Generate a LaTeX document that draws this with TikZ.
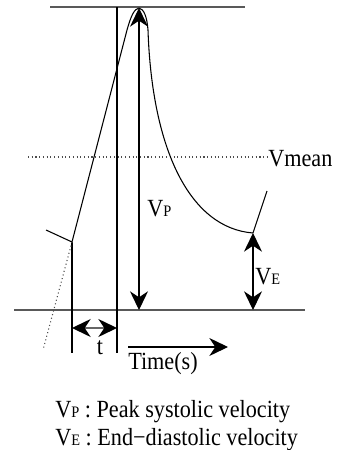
\documentclass[tikz,border=0pt]{standalone}
\usepackage{fontspec}
\setmainfont[FakeStretch=0.9]{Liberation Serif}
\usetikzlibrary{arrows.meta}
\newcommand{\smsub}[1]{{\fontsize{12}{13}\selectfont #1}}
\begin{document}
\begin{tikzpicture}[x=0.75pt,y=-0.75pt,
  axis/.style={draw=black!65, line width=1.5pt},
  thinline/.style={draw=black, line width=0.8pt},
  dotline/.style={draw=black!70, line width=0.8pt, dotted},
  tipone/.style={-{Stealth[length=14pt,width=13.5pt,inset=4.5pt,color=black]}},
  tiptwo/.style={{Stealth[length=14pt,width=13.5pt,inset=4.5pt,color=black]}-{Stealth[length=14pt,width=13.5pt,inset=4.5pt,color=black]}},
  lbl/.style={inner sep=0pt, font=\fontsize{18.5}{21}\selectfont},
]
\useasboundingbox (0,0) rectangle (340,450);
% coordinates
\coordinate (tl) at (50,7);   \coordinate (tr) at (245,7);
\coordinate (bl) at (14,310); \coordinate (br) at (305,310);
\coordinate (ml) at (28,157); \coordinate (mr) at (268,157);
\coordinate (a0) at (46,230); \coordinate (a1) at (72,242);
\coordinate (a2) at (127,30); \coordinate (pk) at (139,8);
\coordinate (a3) at (148,30); \coordinate (e) at (253,233);
\coordinate (e2) at (267,191); \coordinate (d) at (43,350);
\coordinate (v1b) at (72,353); \coordinate (v2t) at (117,7); \coordinate (v2b) at (117,353);
\coordinate (vpb) at (139,310); \coordinate (veb) at (253,310);
\coordinate (tL) at (72,328); \coordinate (tR) at (117,328);
\coordinate (ts) at (128,347); \coordinate (te) at (228,347);
% axes
\draw[axis] (tl) -- (tr);
\draw[axis] (bl) -- (br);
\draw[dotline] (ml) -- (mr);
% verticals
\draw[thinline] (a1) -- (v1b);
\draw[thinline] (v2t) -- (v2b);
% waveform
\draw[thinline, line join=round] (a0) -- (a1) -- (a2) .. controls (131,16) and (134,9) .. (pk)
  .. controls (144,9) and (147,17) .. (a3) .. controls (152,150) and (190,228) .. (e) -- (e2);
\draw[dotline] (a1) -- (d);
% arrows
\draw[thinline, tiptwo] (pk) -- (vpb);
\draw[thinline, tiptwo] (e) -- (veb);
\draw[draw=black!60, line width=1pt, tiptwo] (tL) -- (tR);
\draw[thinline, tipone] (ts) -- (te);
% labels
\node[lbl, anchor=base west] (vmean) at (268,166) {Vmean};
\node[lbl, anchor=base west] (vp) at (147,216) {V\smsub{P}};
\node[lbl, anchor=base west] (ve) at (255,284) {V\smsub{E}};
\node[lbl, anchor=base] (t) at (100,354) {t};
\node[lbl, anchor=base west] (time) at (128,369) {Time(s)};
\node[lbl, anchor=base west] (leg1) at (55,417) {V\smsub{P} : Peak systolic velocity};
\node[lbl, anchor=base west] (leg2) at (55,445) {V\smsub{E} : End−diastolic velocity};
\end{tikzpicture}
\end{document}
